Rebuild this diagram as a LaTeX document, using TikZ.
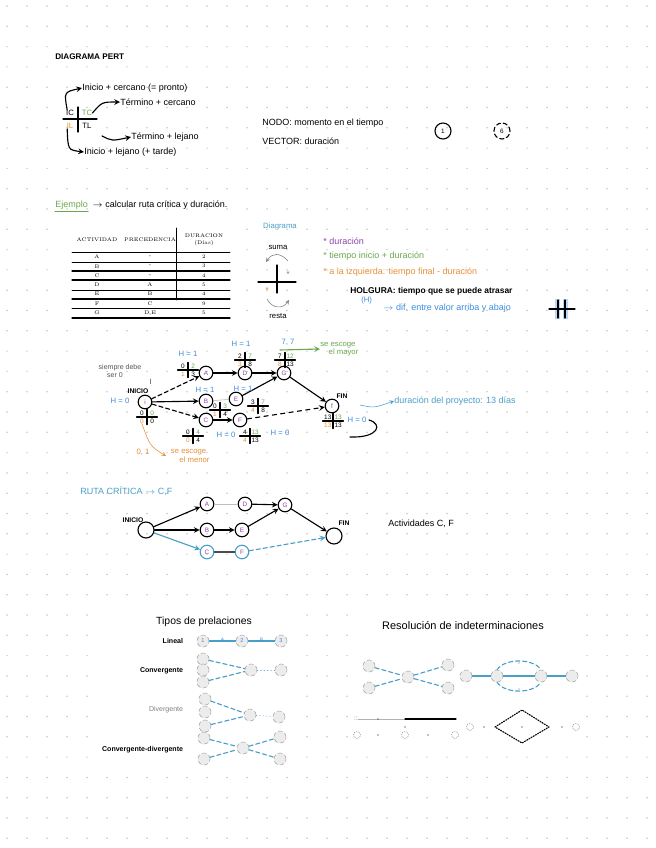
\documentclass[tikz,border=0pt]{standalone}
\usepackage{fontspec}
\setsansfont{Liberation Sans}
\usetikzlibrary{positioning}

\definecolor{verde}{HTML}{6AA84F}
\definecolor{naranja}{HTML}{E69138}
\definecolor{morado}{HTML}{8E44AD}
\definecolor{azul}{HTML}{3C8DDE}
\definecolor{celeste}{HTML}{4A9FC8}
\definecolor{punto}{HTML}{C8C8C8}
\definecolor{gristexto}{HTML}{555555}

\tikzset{
  pnodo/.style={circle, draw, thick, minimum size=0.34cm, inner sep=0pt, text=morado, font=\sffamily\fontsize{4.5}{5}\selectfont},
  vnodo/.style={circle, draw, thick, minimum size=0.4cm, inner sep=0pt},
  gnodo/.style={circle, draw=gray!70, densely dashed, fill=gray!15, minimum size=0.3cm, inner sep=0pt, text=azul, font=\sffamily\fontsize{4}{4}\selectfont},
  num/.style={inner sep=0pt, font=\sffamily\fontsize{4.6}{5}\selectfont},
  texto/.style={anchor=west, inner sep=0pt},
  holg/.style={inner sep=0pt, text=azul, font=\sffamily\fontsize{5.5}{6}\selectfont},
  flecha/.style={->, thick},
  punteada/.style={celeste, densely dashed, thick},
}

% cruz de tiempos: nombre, x, y, IC, TC, IL, TL
\newcommand{\cruz}[7]{%
  \coordinate (#1) at (#2,#3);
  \draw[thick] ([xshift=-0.26cm]#1) -- ([xshift=0.26cm]#1)
               ([yshift=-0.19cm]#1) -- ([yshift=0.19cm]#1);
  \node[num] (#1-ic) at ([shift={(-0.13cm,0.095cm)}]#1) {#4};
  \node[num, text=verde] (#1-tc) at ([shift={(0.13cm,0.095cm)}]#1) {#5};
  \node[num, text=naranja] (#1-il) at ([shift={(-0.13cm,-0.095cm)}]#1) {#6};
  \node[num] (#1-tl) at ([shift={(0.13cm,-0.095cm)}]#1) {#7};
}

\begin{document}
\begin{tikzpicture}[x=0.025cm, y=-0.025cm, font=\sffamily\fontsize{6.4}{7.5}\selectfont, line join=round, line cap=round, >=stealth]
\useasboundingbox (0,0) rectangle (656,848);
\fill[white] (0,0) rectangle (656,848);
% hoja punteada
\foreach \i in {0,...,32}
  \foreach \j in {0,...,41}
    \fill[punto] (7+20*\i, 6+20.3*\j) circle (0.6pt);

% ---------- encabezado
\node[texto, font=\sffamily\bfseries\fontsize{5.8}{6}\selectfont] (titulo) at (55,57) {DIAGRAMA PERT};

\draw[thick] (63,119) -- (97,119) (78,107) -- (78,132);
\node[num, font=\sffamily\fontsize{5.5}{6}\selectfont] (ic) at (70,113) {IC};
\node[num, font=\sffamily\fontsize{5.5}{6}\selectfont, text=verde] (tc) at (87,113) {TC};
\node[num, font=\sffamily\fontsize{5.5}{6}\selectfont, text=naranja] (il) at (70,126) {IL};
\node[num, font=\sffamily\fontsize{5.5}{6}\selectfont] (tl) at (87,126) {TL};

\node[texto] (t1) at (82,88) {Inicio + cercano (= pronto)};
\node[texto] (t2) at (120,102) {Término + cercano};
\node[texto] (t3) at (131,137) {Término + lejano};
\node[texto] (t4) at (84,152) {Inicio + lejano (+ tarde)};
\coordinate (tlflecha) at (102,136);

\draw[->, thick] ([xshift=-2pt]ic.north) .. controls (64,92) .. (t1.west);
\draw[->, thick] (tc.east) .. controls (102,102) .. (t2.west);
\draw[->, thick] (tlflecha) .. controls (112,141) .. (t3.west);
\draw[->, thick] ([xshift=-2pt]il.south) .. controls (68,150) .. (t4.west);

\node[texto] (nodo) at (262,123) {NODO: momento en el tiempo};
\node[texto] (vector) at (262,141) {VECTOR: duración};
\node[vnodo] (ejuno) at (443,131) {\fontsize{4.5}{5}\selectfont 1};
\node[vnodo, densely dashed] (ejseis) at (502,131) {\fontsize{4.5}{5}\selectfont 6};

% ---------- ejemplo
\node[texto, text=verde] (ejemplo) at (55,205) {Ejemplo};
\draw[verde, thick] ([yshift=-1.5pt]ejemplo.south west) -- ([yshift=-1.5pt]ejemplo.south east);
\node[texto, right=3pt of ejemplo] (enunciado) {$\rightarrow$ calcular ruta crítica y duración.};

% tabla
\begin{scope}[font=\rmfamily\fontsize{3.7}{4.6}\selectfont]
\fill[white] (66,224) rectangle (236,326);
\node[align=center] (hact) at (97,240) {ACTIVIDAD};
\node[align=center] (hpre) at (150,240) {PRECEDENCIA};
\node[align=center] (hdur) at (204,240) {DURACION\\(Días)};
\draw (176,228) -- (176,300);
\draw (72,252) -- (230,252);
\foreach \y in {262,290,308} \draw (72,\y) -- (230,\y);
\foreach \y in {271,280,299,318} \draw[thick] (72,\y) -- (230,\y);
\foreach \act/\pre/\dur [count=\k] in {A/-/2, B/-/3, C/-/4, D/A/5, E/B/4, F/C/9, G/{D,E}/5}
  \node (fila\k) at (97,257+9.3*\k-9.3) {\act}
        node at (150,257+9.3*\k-9.3) {\pre}
        node at (204,257+9.3*\k-9.3) {\dur};
\end{scope}

% diagrama explicativo
\node[text=celeste, font=\sffamily\fontsize{5.5}{6}\selectfont] (diag) at (280,226) {Diagrama};
\draw[thick] (258,282) -- (296,282) (277,265) -- (277,293);
\node[text=verde] (estrv) at (288,274) {*};
\node[text=naranja] (estrn) at (267,290) {*};
\node[font=\sffamily\fontsize{5.5}{6}\selectfont] (suma) at (278,247) {suma};
\node[font=\sffamily\fontsize{5.5}{6}\selectfont] (resta) at (278,316) {resta};
\coordinate (sumaa) at (288,261);
\coordinate (sumab) at (266,262);
\coordinate (restaa) at (267,299);
\coordinate (restab) at (289,300);
\draw[->, gray] (sumaa) .. controls (280,252) and (272,253) .. (sumab);
\draw[->, gray] (restaa) .. controls (272,309) and (283,309) .. (restab);

\node[texto, text=morado] (ldur) at (323,241) {* duración};
\node[texto, text=verde] (lini) at (323,256) {* tiempo inicio + duración};
\node[texto, text=naranja] (lizq) at (323,272) {* a la izquierda: tiempo final - duración};
\node[texto, font=\sffamily\bfseries\fontsize{6}{7}\selectfont] (holgura) at (350,291) {HOLGURA: tiempo que se puede atrasar};
\node[texto, text=azul, font=\sffamily\fontsize{5.5}{6}\selectfont] (hache) at (361,300) {(H)};
\node[texto, text=azul] (dif) at (383,308) {$\rightarrow$ dif. entre valor arriba y abajo};
\fill[azul!35] (555,299) rectangle (560,319) (563,299) rectangle (568,319);
\draw[thick] (549,309) -- (575,309) (558,300) -- (558,318) (565,300) -- (565,318);

% ---------- red con tiempos
\node[pnodo] (ini) at (145,402) {i};
\node[pnodo] (A) at (206,373) {A};
\node[pnodo] (D) at (245,373) {D};
\node[pnodo] (G) at (284,373) {G};
\node[pnodo] (B) at (206,401) {B};
\node[pnodo] (E) at (236,399) {E};
\node[pnodo] (C) at (206,420) {C};
\node[pnodo] (F) at (240,420) {F};
\node[pnodo] (fin) at (332,406) {f};
\node[font=\sffamily\bfseries\fontsize{4.8}{5}\selectfont] (lini1) at (138,391) {INICIO};
\node[font=\sffamily\bfseries\fontsize{4.8}{5}\selectfont] (lfin1) at (342,396) {FIN};

\draw[flecha, densely dashed] (ini) -- (A);
\draw[flecha] (ini) -- (B);
\draw[flecha, densely dashed] (ini) -- (C);
\draw[flecha] (A) -- (D);
\draw[gray!60] (B) -- (E);
\draw[flecha] (C) -- (F);
\draw[flecha] (D) -- (G);
\draw[flecha] (E) -- (G);
\draw[flecha] (G) -- (fin);
\draw[flecha, dashed] (F) -- (fin);

\cruz{cini}{147}{417}{0}{0}{0}{0}
\cruz{cA}{188}{370}{0}{2}{1}{3}
\cruz{cD}{245}{360}{2}{7}{3}{8}
\cruz{cG}{285}{360}{7}{12}{8}{13}
\cruz{cB}{220}{410}{0}{3}{1}{4}
\cruz{cE}{258}{406}{3}{7}{4}{8}
\cruz{cC}{193}{436}{0}{4}{0}{4}
\cruz{cF}{250}{436}{4}{13}{4}{13}
\cruz{cfin}{333}{421}{13}{13}{13}{13}

\node[holg] (hini) at (120,401) {H = 0};
\node[holg] (hA) at (188,354) {H = 1};
\node[holg] (hD) at (241,344) {H = 1};
\node[holg] (hB) at (205,390) {H = 1};
\node[holg] (hE) at (243,389) {H = 1};
\node[holg] (hC) at (226,435) {H = 0};
\node[holg] (hF) at (280,433) {H = 0};
\node[holg] (hfin) at (357,420) {H = 0};
\coordinate (curvaa) at (369,420);
\coordinate (curvab) at (350,437);
\draw[thick] (curvaa) .. controls (383,424) and (379,438) .. (curvab);

\node[holg] (may) at (288,342) {7, 7};
\coordinate (mayi) at (280,350);
\node[texto, text=verde, align=left, font=\sffamily\fontsize{5.5}{6}\selectfont] (mayor) at (320,349) {se escoge\\\hspace{6pt}el mayor};
\draw[->, verde, thick] (mayi) -- (mayor.west);

\node[gristexto, align=left, font=\sffamily\fontsize{5}{5.5}\selectfont] (siempre) at (120,371) {siempre debe\\\hspace{6pt}ser 0};
\coordinate (siemprea) at (150,379);
\draw[gray] (siemprea) -- (lini1.north -| siemprea);

\node[text=naranja, font=\sffamily\fontsize{5.5}{6}\selectfont] (menv) at (143,452) {0, 1};
\node[text=naranja, align=left, anchor=west, font=\sffamily\fontsize{5.5}{6}\selectfont] (menor) at (166,456) {se escoge\\\hspace{6pt}el menor};
\draw[->, naranja] (cini-il.south) .. controls (150,446) .. (menor.west);

\coordinate (durflecha) at (360,405);
\node[texto, text=celeste] (duracion) at (394,401) {duración del proyecto: 13 días};
\draw[->, celeste] (durflecha) .. controls (374,408) .. (duracion.west);

% ---------- ruta critica
\node[texto, text=celeste] (ruta) at (80,491) {RUTA CRÍTICA $\rightarrow$ C,F};
\node[vnodo] (ini2) at (146,530) {};
\node[pnodo] (A2) at (207,504) {A};
\node[pnodo] (D2) at (245,504) {D};
\node[pnodo] (G2) at (285,505) {G};
\node[pnodo] (B2) at (207,530) {B};
\node[pnodo] (E2) at (242,530) {E};
\node[pnodo, draw=celeste] (C2) at (207,552) {C};
\node[pnodo, draw=celeste] (F2) at (242,552) {F};
\node[vnodo] (fin2) at (334,536) {};
\node[font=\sffamily\bfseries\fontsize{4.8}{5}\selectfont] (lini2) at (133,520) {INICIO};
\node[font=\sffamily\bfseries\fontsize{4.8}{5}\selectfont] (lfin2) at (344,523) {FIN};

\draw[flecha] (ini2) -- (A2);
\draw[gray!50] (A2) -- (D2);
\draw[flecha] (D2) -- (G2);
\draw[flecha] (ini2) -- (B2);
\draw[flecha] (B2) -- (E2);
\draw[flecha] (E2) -- (G2);
\draw[flecha] (G2) -- (fin2);
\draw[flecha, celeste] (ini2) -- (C2);
\draw[thick, black!70] (C2) -- (F2);
\draw[flecha, celeste, densely dashed] (F2) -- (fin2);
\node[texto] (activ) at (388,524) {Actividades C, F};

% ---------- tipos de prelaciones
\fill[white] (102,612) rectangle (300,768);
\node[font=\sffamily\fontsize{7.4}{8}\selectfont] (tipos) at (204,622) {Tipos de prelaciones};
\begin{scope}[font=\sffamily\bfseries\fontsize{5}{6}\selectfont]
\node[anchor=east] (lineal) at (188,641) {Lineal};
\node[anchor=east] (conv) at (188,671) {Convergente};
\node[anchor=east, text=gray, font=\sffamily\fontsize{5}{6}\selectfont] (div) at (188,710) {Divergente};
\node[anchor=east] (convdiv) at (188,750) {Convergente-divergente};
\end{scope}

\node[gnodo] (l1) at (203,641) {1};
\node[gnodo] (l2) at (242,641) {2};
\node[gnodo] (l3) at (281,641) {3};
\draw[celeste, thick] (l1) -- node[above=-1pt, num, text=azul, font=\sffamily\fontsize{3.5}{4}\selectfont] {A} (l2);
\draw[celeste, thick] (l2) -- node[above=-1pt, num, text=azul, font=\sffamily\fontsize{3.5}{4}\selectfont] {B} (l3);

\node[gnodo] (c1) at (203,659) {};
\node[gnodo] (c2) at (203,670) {};
\node[gnodo] (c3) at (203,682) {};
\node[gnodo] (c4) at (251,670) {};
\node[gnodo] (c5) at (281,670) {};
\draw[punteada] (c1) -- (c4);
\draw[punteada] (c3) -- (c4);
\draw[celeste, dotted] (c4) -- (c5);

\node[gnodo] (d1) at (205,699) {};
\node[gnodo] (d2) at (205,712) {};
\node[gnodo] (d3) at (205,726) {};
\node[gnodo] (d4) at (250,715) {};
\node[gnodo] (d5) at (279,717) {};
\draw[punteada] (d1) -- (d4);
\draw[punteada] (d3) -- (d4);
\draw[celeste, dotted] (d4) -- (d5);

\node[gnodo] (x1) at (204,738) {};
\node[gnodo] (x2) at (204,759) {};
\node[gnodo] (x3) at (243,748) {};
\node[gnodo] (x4) at (280,737) {};
\node[gnodo] (x5) at (280,759) {};
\draw[punteada] (x1) -- (x3) -- (x5);
\draw[punteada] (x2) -- (x3) -- (x4);

% ---------- resolucion de indeterminaciones
\fill[white] (348,606) rectangle (586,746);
\node[font=\sffamily\fontsize{7.8}{8}\selectfont] (resol) at (463,626) {Resolución de indeterminaciones};

\node[gnodo] (r1) at (369,666) {};
\node[gnodo] (r2) at (369,688) {};
\node[gnodo] (r3) at (408,677) {};
\node[gnodo] (r4) at (448,665) {};
\node[gnodo] (r5) at (448,688) {};
\draw[punteada] (r1) -- (r3) -- (r5);
\draw[punteada] (r2) -- (r3) -- (r4);

\node[gnodo] (s1) at (466,676) {};
\node[gnodo] (s2) at (497,676) {};
\node[gnodo] (s3) at (541,676) {};
\node[gnodo] (s4) at (572,676) {};
\draw[celeste, thick] (s1) -- (s2) -- (s3) -- (s4);
\draw[punteada] (s2.north) .. controls (505,658) and (533,658) .. (s3.north);
\draw[punteada] (s2.south) .. controls (505,694) and (533,694) .. (s3.south);
\foreach \px/\py in {482/676, 519/676, 557/676, 519/663, 519/689}
  \fill[azul] (\px,\py) circle (0.5pt);

\node[num, text=gray] (u1) at (356,719) {::};
\coordinate (u2) at (405,719);
\coordinate (u3) at (456,719);
\draw[gray!60] (u1) -- (u2);
\draw[thick] (u2) -- (u3);
\foreach \px/\py in {378/719, 405/727, 378/735, 428/735}
  \fill (\px,\py) circle (0.5pt);
\foreach \px in {357,405,455}
  \draw[gray, densely dotted] (\px,735) circle (2.5pt);

\coordinate (m1) at (495,727);
\coordinate (m2) at (522,710);
\coordinate (m3) at (549,727);
\coordinate (m4) at (522,743);
\draw[densely dotted, thick] (m1) -- (m2) -- (m3) -- (m4) -- cycle;
\draw[gray, densely dotted] (470,727) circle (2.5pt) (576,727) circle (2.5pt);
\foreach \px in {484,522,562}
  \fill (\px,727) circle (0.5pt);
\end{tikzpicture}
\end{document}
